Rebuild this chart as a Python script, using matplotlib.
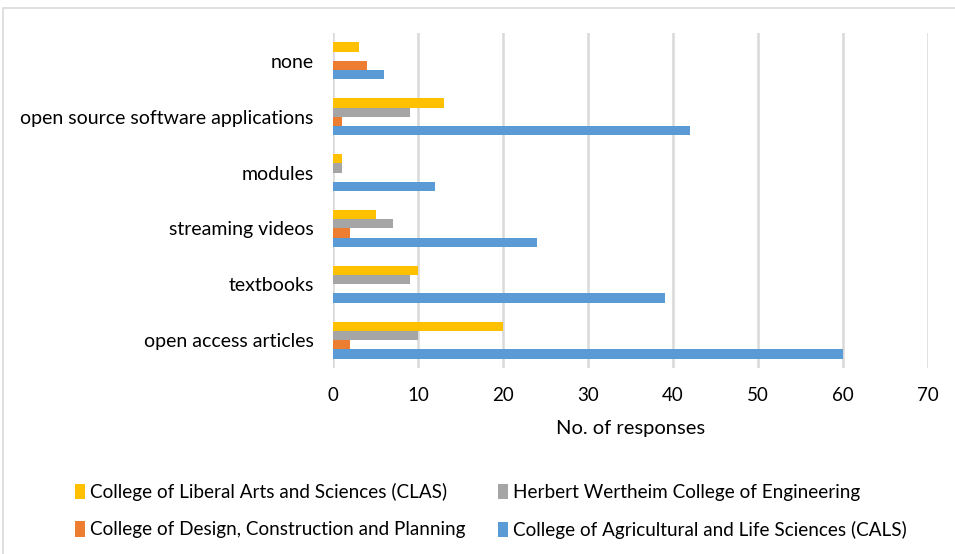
import matplotlib
matplotlib.use("Agg")
import matplotlib.pyplot as plt
import numpy as np
from matplotlib.patches import Rectangle

plt.rcParams['font.family'] = ['Lato', 'DejaVu Sans']

categories = ["open access articles", "textbooks", "streaming videos",
              "modules", "open source software applications", "none"]
series_names = ["College of Liberal Arts and Sciences (CLAS)",
                "Herbert Wertheim College of Engineering",
                "College of Design, Construction and Planning",
                "College of Agricultural and Life Sciences (CALS)"]
clas = [20, 10, 5, 1, 13, 3]
hwce = [10, 9, 7, 1, 9, 0]
dcp = [2, 0, 2, 0, 1, 4]
cals = [60, 39, 24, 12, 42, 6]
colors = ["#FFC000", "#A5A5A5", "#ED7D31", "#5B9BD5"]
xticks = [0, 10, 20, 30, 40, 50, 60, 70]

fig = plt.figure(figsize=(9.55, 5.54), dpi=100)
# outer chart border
fig.patches.append(Rectangle((3/955, -0.1), 1.2, 1 - 8/554 + 0.1,
                             transform=fig.transFigure, fill=False,
                             edgecolor="#d9d9d9", linewidth=1.2))
ax = fig.add_axes([333/955, 1 - 368/554, (928 - 333)/955, (368 - 33)/554])

y = np.arange(len(categories))
h = 0.165
data = [clas, hwce, dcp, cals]
offsets = [1.5 * h, 0.5 * h, -0.5 * h, -1.5 * h]
for vals, c, off, name in zip(data, colors, offsets, series_names):
    ax.barh(y + off, vals, height=h, color=c, label=name, zorder=3)

ax.set_xlim(0, 70)
ax.set_ylim(-0.5, len(categories) - 0.5)
ax.set_xticks(xticks)
ax.set_yticks(y)
ax.set_yticklabels(categories, fontsize=14, color="#000000")
ax.tick_params(axis='x', labelsize=13.5, length=0, pad=14)
ax.tick_params(axis='y', length=0, pad=14)
ax.grid(axis='x', color="#d9d9d9", linewidth=1.8, zorder=0)
for s in ax.spines.values():
    s.set_visible(False)
ax.set_xlabel("No. of responses", fontsize=14.5, labelpad=11)

handles, labels = ax.get_legend_handles_labels()
order = [0, 2, 1, 3]
fig.legend([handles[i] for i in order], [labels[i] for i in order],
           loc="upper left", bbox_to_anchor=(58/955, 1 - 466/554), ncol=2,
           frameon=False, fontsize=13.6, handlelength=0.55, handleheight=0.9,
           handletextpad=0.25, columnspacing=1.7, labelspacing=1.05)

fig.savefig("out.png", dpi=100)
